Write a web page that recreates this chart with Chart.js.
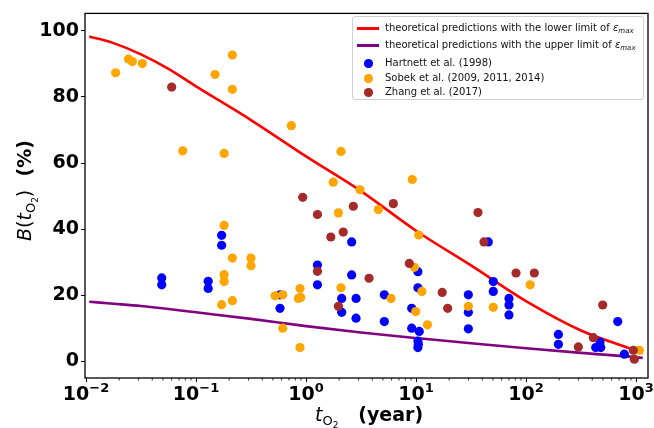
<!DOCTYPE html>
<html lang="en">
<head>
<meta charset="UTF-8">
<title>B(tO2) against tO2</title>
<script src="https://cdn.jsdelivr.net/npm/chart.js"></script>
<style>
  body { margin: 0; background: #fff; }
  #wrap { position: relative; width: 654px; height: 428px; }
  #legend {
    position: absolute; left: 352px; top: 16px; width: 292px; height: 84px;
    box-sizing: border-box; border: 1px solid #cfcfcf; border-radius: 3px;
    background: rgba(255,255,255,0.85);
    font-family: "DejaVu Sans", sans-serif; font-size: 10px; color: #111;
  }
  .row { position: absolute; left: 0; width: 100%; height: 14px; }
  .row span.txt { position: absolute; left: 32px; top: 0; line-height: 14px; white-space: nowrap; }
  .row sub { font-size: 7px; vertical-align: -2px; }
  .handle-line { position: absolute; left: 4px; top: 6px; width: 22px; height: 2.5px; }
  .handle-dot { position: absolute; left: 11px; top: 3px; width: 8.5px; height: 8.5px; border-radius: 50%; }
</style>
</head>
<body>
<div id="wrap">
  <canvas id="chart" width="654" height="428"></canvas>
  <div id="legend"></div>
</div>
<script>
// theoretical curves
const curveT      = [0.0107, 0.0178, 0.0316, 0.0562, 0.1, 0.316, 1, 3.16, 10, 31.6, 100, 316, 1000, 1150];
const lowerLimitB = [98.3, 96.3, 92.9, 88.5, 83.2, 73, 62, 51.5, 39.5, 29, 18.2, 9.3, 3.2, 2.4];
const upperLimitB = [18.0, 17.4, 16.7, 15.8, 14.8, 12.8, 10.6, 8.7, 7.0, 5.4, 3.9, 2.5, 1.2, 1.0];

// Hartnett et al. (1998)
const hartnettT = [0.0488, 0.0488, 0.129, 0.129, 0.171, 0.171, 0.58, 0.58, 1.27, 1.27,
  2.11, 2.11, 2.60, 2.60, 2.85, 2.85, 5.15, 5.15, 9.14, 9.14,
  10.4, 10.4, 10.7, 10.4, 10.5, 10.4, 29.9, 29.9, 29.9, 45.4,
  50.4, 50.4, 70, 70, 70, 197, 197, 471, 430, 478, 682, 783];
const hartnettB = [25.2, 23.1, 24.2, 22.0, 38.1, 35.1, 20.1, 16.0, 29.1, 23.1,
  19.0, 14.8, 36.1, 26.1, 19.0, 13.0, 20.1, 12.0, 16.0, 10.0,
  27.1, 22.2, 9.0, 6.1, 5.1, 4.1, 20.1, 14.8, 9.8, 36.1,
  24.1, 21.1, 19.0, 17.0, 14.0, 8.1, 5.1, 5.8, 4.1, 4.1, 12.0, 2.1];

// Sobek et al. (2009, 2011, 2014)
const sobekT = [0.0186, 0.0243, 0.0264, 0.0325, 0.0757, 0.149, 0.180, 0.214, 0.214, 0.180,
  0.214, 0.180, 0.180, 0.316, 0.316, 0.171, 0.214, 0.735, 0.523, 0.614,
  0.614, 0.882, 0.85, 0.895, 0.882, 2.08, 1.77, 3.10, 9.25, 1.97,
  4.54, 10.6, 9.66, 11.3, 2.08, 5.93, 9.94, 12.7, 29.9, 50.4, 109, 1072];
const sobekB = [87.3, 91.5, 90.7, 90.1, 63.7, 86.8, 62.9, 92.7, 82.3, 41.1,
  31.2, 26.2, 24.1, 31.2, 28.9, 17.1, 18.3, 71.3, 19.8, 20.1,
  10.0, 22.0, 19.0, 19.3, 4.1, 63.5, 54.2, 51.9, 55.0, 44.9,
  45.9, 38.2, 28.4, 21.1, 22.2, 19.0, 15.0, 11.0, 16.6, 16.3, 23.1, 3.3];

// Zhang et al. (2017)
const zhangT = [0.0601, 0.933, 1.27, 1.27, 2.69, 6.22, 2.18, 1.68, 1.97, 3.74,
  8.69, 17.3, 19.4, 36.6, 41.5, 81.1, 119, 299, 409, 498, 945, 965];
const zhangB = [83.0, 49.6, 44.4, 27.2, 46.9, 47.7, 39.1, 37.6, 16.6, 25.1,
  29.6, 20.8, 16.0, 45.0, 36.1, 26.7, 26.7, 4.3, 7.1, 17.0, 3.3, 0.6];

const xTickValues = [0.01, 0.1, 1, 10, 100, 1000];
const xTickExponents = ['−2', '−1', '0', '1', '2', '3'];
const yTickValues = [0, 20, 40, 60, 80, 100];

const pts = (xs, ys) => xs.map((x, i) => ({ x: x, y: ys[i] }));

const series = [
  { label: 'theoretical predictions with the lower limit of ε_max', kind: 'line', color: '#ff0000', data: pts(curveT, lowerLimitB), order: 5 },
  { label: 'theoretical predictions with the upper limit of ε_max', kind: 'line', color: '#800080', data: pts(curveT, upperLimitB), order: 4 },
  { label: 'Hartnett et al. (1998)', kind: 'dot', color: '#0000ff', data: pts(hartnettT, hartnettB), order: 3 },
  { label: 'Sobek et al. (2009, 2011, 2014)', kind: 'dot', color: '#ffa500', data: pts(sobekT, sobekB), order: 2 },
  { label: 'Zhang et al. (2017)', kind: 'dot', color: '#a52a2a', data: pts(zhangT, zhangB), order: 1 }
];

const datasets = series.map(s => s.kind === 'line' ? {
  label: s.label, data: s.data, showLine: true, borderColor: s.color, borderWidth: 2.6,
  pointRadius: 0, cubicInterpolationMode: 'monotone', fill: false, order: s.order
} : {
  label: s.label, data: s.data, backgroundColor: s.color, borderWidth: 0,
  pointRadius: 4.6, pointHoverRadius: 4.6, order: s.order
});

// minor tick positions on the log axis
const xMinor = [];
for (let e = -3; e <= 3; e++) for (let m = 2; m <= 9; m++) xMinor.push(m * Math.pow(10, e));

function runsWidth(ctx, runs) {
  let w = 0;
  runs.forEach(r => { ctx.font = r.font; w += ctx.measureText(r.text).width; });
  return w;
}
function drawRuns(ctx, runs, x, y) {
  runs.forEach(r => {
    ctx.font = r.font;
    ctx.fillText(r.text, x, y + (r.dy || 0));
    x += ctx.measureText(r.text).width;
  });
}

const F = '"DejaVu Sans", sans-serif';
const frameAndTitles = {
  id: 'frameAndTitles',
  afterDraw(chart) {
    const { ctx, chartArea: a, scales } = chart;
    ctx.save();
    ctx.strokeStyle = '#000';
    ctx.lineWidth = 0.8;
    xMinor.forEach(v => {
      const px = scales.x.getPixelForValue(v);
      if (px < a.left || px > a.right) return;
      ctx.beginPath();
      ctx.moveTo(px, a.bottom);
      ctx.lineTo(px, a.bottom + 2.5);
      ctx.stroke();
    });
    ctx.lineWidth = 1.3;
    ctx.strokeRect(a.left, a.top, a.right - a.left, a.bottom - a.top);

    ctx.fillStyle = '#000';
    ctx.textBaseline = 'alphabetic';
    ctx.textAlign = 'left';
    // x tick labels: 10 with a raised exponent
    xTickValues.forEach((v, i) => {
      const runs = [
        { text: '10', font: 'bold 19px ' + F },
        { text: xTickExponents[i], font: 'bold 13px ' + F, dy: -8 }
      ];
      const px = scales.x.getPixelForValue(v);
      drawRuns(ctx, runs, px - runsWidth(ctx, runs) / 2, 400);
    });
    // x title
    drawRuns(ctx, [
      { text: 't', font: 'italic 19px ' + F },
      { text: 'O', font: '13px ' + F, dy: 4 },
      { text: '2', font: '9px ' + F, dy: 7 },
      { text: '   (year)', font: 'bold 19px ' + F }
    ], 315, 421);
    // y title
    ctx.translate(31, 241);
    ctx.rotate(-Math.PI / 2);
    drawRuns(ctx, [
      { text: 'B', font: 'italic 19px ' + F },
      { text: '(', font: '19px ' + F },
      { text: 't', font: 'italic 19px ' + F },
      { text: 'O', font: '13px ' + F, dy: 4 },
      { text: '2', font: '9px ' + F, dy: 7 },
      { text: ')', font: '19px ' + F },
      { text: '  (%)', font: 'bold 19px ' + F }
    ], 0, 0);
    ctx.restore();
  }
};

new Chart(document.getElementById('chart'), {
  type: 'scatter',
  data: { datasets: datasets },
  options: {
    responsive: false,
    animation: false,
    events: [],
    layout: { padding: { left: 0, top: 11, right: 6, bottom: 0 } },
    plugins: { legend: { display: false }, tooltip: { enabled: false } },
    scales: {
      x: {
        type: 'logarithmic',
        min: 0.00979, max: 1285,
        afterFit: s => { s.height = 50; },
        afterBuildTicks: s => { s.ticks = xTickValues.map(v => ({ value: v })); },
        border: { display: false },
        grid: { drawOnChartArea: false, drawTicks: true, tickLength: 4, tickColor: '#000', lineWidth: 1 },
        ticks: { autoSkip: false, maxRotation: 0, callback: () => '' }
      },
      y: {
        min: -5.1, max: 105.3,
        afterFit: s => { s.width = 85; },
        afterBuildTicks: s => { s.ticks = yTickValues.map(v => ({ value: v })); },
        border: { display: false },
        grid: { drawOnChartArea: false, drawTicks: true, tickLength: 4, tickColor: '#000', lineWidth: 1 },
        ticks: {
          padding: 2, color: '#000',
          font: { family: 'DejaVu Sans', size: 19, weight: 'bold' }
        }
      }
    }
  },
  plugins: [frameAndTitles]
});

// legend box, built from the series list
const rowTops = [4, 21, 39, 54, 68];
const legend = document.getElementById('legend');
series.forEach((s, i) => {
  const row = document.createElement('div');
  row.className = 'row';
  row.style.top = rowTops[i] + 'px';
  const h = document.createElement('div');
  h.className = s.kind === 'line' ? 'handle-line' : 'handle-dot';
  h.style.background = s.color;
  row.appendChild(h);
  const t = document.createElement('span');
  t.className = 'txt';
  t.innerHTML = s.label.replace('ε_max', '<i>ε</i><sub><i>max</i></sub>');
  row.appendChild(t);
  legend.appendChild(row);
});
</script>
</body>
</html>
